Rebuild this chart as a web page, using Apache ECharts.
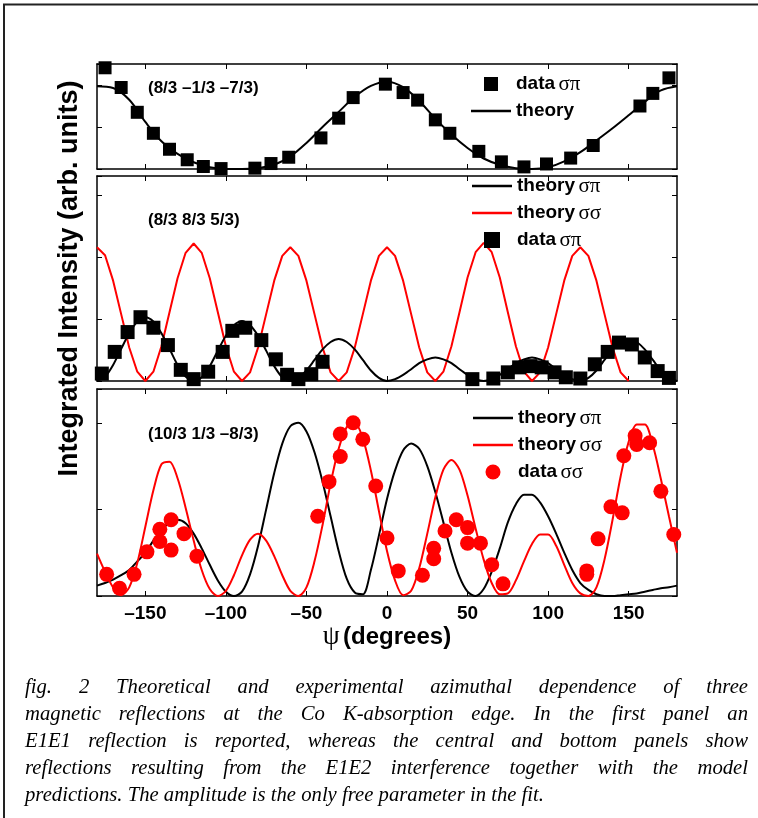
<!DOCTYPE html>
<html>
<head>
<meta charset="utf-8">
<script src="https://cdn.jsdelivr.net/npm/echarts@6/dist/echarts.min.js"></script>
<style>
  html, body { margin: 0; padding: 0; background: #fff; }
  #chart { position: absolute; left: 0; top: 0; width: 758px; height: 818px; }
  #caption { position: absolute; left: 25px; top: 673px; width: 723px;
    font: italic 20.7px "Liberation Serif", "Times New Roman", serif; line-height: 27px; color: #000; }
  #caption div { text-align: justify; text-align-last: justify; white-space: nowrap; }
  #caption div.last { text-align: left; text-align-last: left; }
</style>
</head>
<body>
<div id="chart"></div>
<div id="caption">
  <div>fig. 2 Theoretical and experimental azimuthal dependence of three</div>
  <div>magnetic reflections at the Co K-absorption edge. In the first panel an</div>
  <div>E1E1 reflection is reported, whereas the central and bottom panels show</div>
  <div>reflections resulting from the E1E2 interference together with the model</div>
  <div class="last">predictions. The amplitude is the only free parameter in the fit.</div>
</div>
<script>
// tick positions (degrees)
var psiTicks = [-150, -100, -50, 0, 50, 100, 150];

// angle grids for the theory curves
var psi10 = [-180, -170, -160, -150, -140, -130, -120, -110, -100, -90, -80, -70, -60, -50, -40, -30, -20, -10,
    0, 10, 20, 30, 40, 50, 60, 70, 80, 90, 100, 110, 120, 130, 140, 150, 160, 170, 180];
var psi5 = [-180, -175, -170, -165, -160, -155, -150, -145, -140, -135, -130, -125, -120, -115, -110, -105,
    -100, -95, -90, -85, -80, -75, -70, -65, -60, -55, -50, -45, -40, -35, -30, -25, -20, -15, -10, -5,
    0, 5, 10, 15, 20, 25, 30, 35, 40, 45, 50, 55, 60, 65, 70, 75, 80, 85, 90, 95, 100, 105, 110, 115,
    120, 125, 130, 135, 140, 145, 150, 155, 160, 165, 170, 175, 180];

// panel 1: (8/3 -1/3 -7/3)
var topTheory = [1.97, 1.93, 1.65, 1.12, 0.66, 0.36, 0.16, 0.04, 0.0, 0.0, 0.02, 0.1, 0.3, 0.62, 1.0, 1.36, 1.72, 1.98,
    2.08, 1.95, 1.62, 1.2, 0.82, 0.5, 0.25, 0.1, 0.02, 0.0, 0.04, 0.18, 0.4, 0.68, 0.97, 1.28, 1.6, 1.87, 1.97];
var topDataPsi = [-175, -165, -155, -145, -135, -124, -114, -103, -82, -72, -61, -41, -30, -21, -1, 10, 19, 30,
    39, 57, 71, 85, 99, 114, 128, 157, 165, 175];
var topDataVal = [2.41, 1.94, 1.35, 0.85, 0.47, 0.22, 0.06, 0.01, 0.02, 0.13, 0.28, 0.74, 1.21, 1.70, 2.02, 1.82,
    1.64, 1.17, 0.85, 0.42, 0.17, 0.05, 0.12, 0.26, 0.56, 1.50, 1.80, 2.17];

// panel 2: (8/3 8/3 5/3)
var midTheorySP = [0, 0.07, 0.26, 0.52, 0.77, 0.96, 1.03, 0.96, 0.77, 0.52, 0.26, 0.07, 0,
    0.06, 0.24, 0.49, 0.73, 0.9, 0.97, 0.9, 0.73, 0.49, 0.24, 0.06, 0,
    0.05, 0.17, 0.34, 0.51, 0.63, 0.68, 0.63, 0.51, 0.34, 0.17, 0.05, 0,
    0.03, 0.1, 0.19, 0.29, 0.35, 0.38, 0.35, 0.29, 0.19, 0.1, 0.03, 0,
    0.03, 0.1, 0.19, 0.29, 0.35, 0.38, 0.35, 0.29, 0.19, 0.1, 0.03, 0,
    0.05, 0.17, 0.34, 0.51, 0.63, 0.68, 0.63, 0.51, 0.34, 0.17, 0.05, 0];
var midTheorySS = [2.16, 2.03, 1.62, 1.08, 0.54, 0.15, 0,
    0.15, 0.56, 1.11, 1.66, 2.07, 2.22, 2.07, 1.66, 1.11, 0.56, 0.15, 0,
    0.14, 0.54, 1.08, 1.62, 2.02, 2.16, 2.02, 1.62, 1.08, 0.54, 0.14, 0,
    0.14, 0.54, 1.08, 1.62, 2.02, 2.16, 2.02, 1.62, 1.08, 0.54, 0.14, 0,
    0.15, 0.56, 1.11, 1.67, 2.08, 2.23, 2.08, 1.67, 1.11, 0.56, 0.15, 0,
    0.14, 0.54, 1.08, 1.62, 2.02, 2.16, 2.02, 1.62, 1.08, 0.54, 0.14, 0];
var midDataPsi = [-177, -169, -161, -153, -145, -136, -128, -120, -111, -102, -96, -88, -78, -69, -62, -55, -47, -40,
    53, 66, 75, 82, 89, 96, 104, 111, 120, 129, 137, 144, 152, 160, 168, 175];
var midDataVal = [0.12, 0.47, 0.79, 1.03, 0.86, 0.58, 0.18, 0.03, 0.15, 0.47, 0.81, 0.86, 0.66, 0.35, 0.10, 0.03,
    0.11, 0.31, 0.03, 0.04, 0.14, 0.22, 0.24, 0.22, 0.14, 0.06, 0.04, 0.27, 0.47, 0.62, 0.59, 0.38, 0.16, 0.05];

// panel 3: (10/3 1/3 -8/3)
var botTheorySP = [0.12, 0.15, 0.19, 0.24, 0.30, 0.40, 0.50, 0.64, 0.76, 0.85, 0.88, 0.84, 0.72, 0.55, 0.36, 0.18,
    0.05, 0.0, 0.05, 0.25, 0.58, 1.0, 1.42, 1.76, 1.96, 2.0, 1.9, 1.66, 1.32, 0.92, 0.52, 0.2, 0.04, 0.02, 0.3, 0.7,
    1.12, 1.45, 1.68, 1.76, 1.7, 1.5, 1.2, 0.85, 0.5, 0.22, 0.05, 0.0, 0.08, 0.28, 0.55, 0.85, 1.06, 1.17, 1.17,
    1.08, 0.92, 0.72, 0.5, 0.3, 0.15, 0.07, 0.02, 0.0, 0.0, 0.01, 0.02, 0.03, 0.05, 0.07, 0.09, 0.1, 0.12];
var botTheorySS = [0.49, 0.28, 0.1, 0.01, 0.1, 0.38, 0.8, 1.22, 1.52, 1.55, 1.36, 1.02, 0.64, 0.3, 0.08, 0.0,
    0.06, 0.24, 0.47, 0.65, 0.72, 0.64, 0.46, 0.24, 0.06, 0.0, 0.1, 0.4, 0.82, 1.3, 1.7, 1.95, 2.0, 1.82, 1.45, 0.98,
    0.52, 0.18, 0.01, 0.06, 0.32, 0.72, 1.14, 1.46, 1.57, 1.46, 1.16, 0.78, 0.42, 0.15, 0.02, 0.03, 0.18, 0.4, 0.6,
    0.71, 0.71, 0.58, 0.36, 0.15, 0.03, 0.0, 0.1, 0.42, 0.88, 1.38, 1.78, 1.98, 1.98, 1.74, 1.35, 0.92, 0.5];
var botDataPsi = [-174, -166, -157, -149, -141, -141, -134, -134, -126, -118, -43, -36, -29, -29, -21, -15, -7, 0,
    7, 22, 29, 29, 36, 43, 50, 50, 58, 65, 72, 124, 124, 131, 139, 146, 147, 154, 155, 163, 170, 178];
var botDataVal = [0.25, 0.09, 0.25, 0.51, 0.63, 0.77, 0.88, 0.53, 0.72, 0.46, 0.92, 1.32, 1.61, 1.87, 2.00, 1.81,
    1.27, 0.67, 0.29, 0.24, 0.55, 0.43, 0.75, 0.88, 0.79, 0.61, 0.61, 0.36, 0.14, 0.29, 0.25, 0.66, 1.03, 0.96,
    1.62, 1.85, 1.75, 1.77, 1.21, 0.71];

var sans = '"Liberation Sans", Arial, sans-serif';
var serif = '"Liberation Serif", "Times New Roman", serif';
var squareIcon = 'path://M0,0H10V10H0Z';
var lineIcon = 'path://M0,0H40V2.4H0Z';

function pairs(xs, ys) {
    return xs.map(function (x, i) { return [x, ys[i]]; });
}

function dashNum(v) {
    return v < 0 ? '\u2013' + (-v) : String(v);
}

function xAxes(g, labels) {
    var base = {
        type: 'value', gridIndex: g, min: -180, max: 180,
        axisLine: { show: true, onZero: false, lineStyle: { color: '#000', width: 1.5 } },
        axisTick: { show: true, inside: true, length: 5, customValues: psiTicks, lineStyle: { color: '#000', width: 1 } },
        splitLine: { show: false }
    };
    var bottom = Object.assign({}, base, {
        position: 'bottom',
        axisLabel: {
            show: labels, customValues: psiTicks, formatter: dashNum, margin: 8,
            color: '#000', fontSize: 19, fontWeight: 'bold', fontFamily: sans
        }
    });
    if (labels) {
        bottom.name = '{p|\u03c8} {b|(degrees)}';
        bottom.nameLocation = 'middle';
        bottom.nameGap = 27;
        bottom.nameTextStyle = {
            rich: {
                p: { fontFamily: serif, fontSize: 27, color: '#000' },
                b: { fontFamily: sans, fontSize: 24, fontWeight: 'bold', color: '#000' }
            }
        };
    }
    var top = Object.assign({}, base, { position: 'top', axisLabel: { show: false } });
    return [bottom, top];
}

function yAxes(g, max, withName) {
    var base = {
        type: 'value', gridIndex: g, min: 0, max: max, interval: 1,
        axisLine: { show: true, onZero: false, lineStyle: { color: '#000', width: 1.5 } },
        axisTick: { show: true, inside: true, length: 5, lineStyle: { color: '#000', width: 1 } },
        axisLabel: { show: false },
        splitLine: { show: false }
    };
    var left = Object.assign({}, base, { position: 'left' });
    if (withName) {
        left.name = 'Integrated Intensity (arb. units)';
        left.nameLocation = 'middle';
        left.nameRotate = 90;
        left.nameGap = 14;
        left.nameTextStyle = { fontFamily: sans, fontSize: 27, fontWeight: 'bold', color: '#000' };
    }
    var right = Object.assign({}, base, { position: 'right' });
    return [left, right];
}

function legendBox(left, top, h, gap, items) {
    return {
        orient: 'vertical', left: left, top: top, padding: 0,
        itemWidth: 40, itemHeight: h, itemGap: gap, selectedMode: false,
        data: items,
        formatter: function (name) {
            var p = name.split(' ');
            return p.length > 1 ? '{b|' + p[0] + '} {g|' + p[1] + '}' : '{b|' + name + '}';
        },
        textStyle: {
            color: '#000',
            rich: {
                b: { fontFamily: sans, fontSize: 19, fontWeight: 'bold', color: '#000' },
                g: { fontFamily: serif, fontSize: 21, color: '#000' }
            }
        }
    };
}

function panelLabel(text, top) {
    return {
        type: 'text', left: 148, top: top, z: 10,
        style: { text: text, font: 'bold 17px "Liberation Sans", Arial', fill: '#000' }
    };
}

var dom = document.getElementById('chart');
var myChart = echarts.init(dom, null, { renderer: 'canvas' });

var option = {
    animation: false,
    backgroundColor: '#fff',
    grid: [
        { left: 97, top: 64, width: 580, height: 105 },
        { left: 97, top: 176, width: 580, height: 205 },
        { left: 97, top: 389, width: 580, height: 207 }
    ],
    xAxis: [].concat(xAxes(0, false), xAxes(1, false), xAxes(2, true)),
    yAxis: [].concat(yAxes(0, 2.5, false), yAxes(1, 3.31, true), yAxes(2, 2.39, false)),
    legend: [
        legendBox(471, 73.5, 14, 7, [{ name: 'data \u03c3\u03c0', icon: squareIcon }, { name: 'theory', icon: lineIcon }]),
        legendBox(472, 175.5, 16, 6, [{ name: 'theory \u03c3\u03c0', icon: lineIcon }, { name: 'theory \u03c3\u03c3', icon: lineIcon },
            { name: 'data \u03c3\u03c0', icon: squareIcon }]),
        legendBox(473, 407.5, 15, 6, [{ name: 'theory \u03c3\u03c0', icon: lineIcon }, { name: 'theory \u03c3\u03c3', icon: lineIcon },
            { name: 'data \u03c3\u03c3', icon: 'circle' }])
    ],
    graphic: [
        { type: 'rect', shape: { x: 4, y: 4.5, width: 820, height: 900 }, style: { fill: 'none', stroke: '#222', lineWidth: 2 }, silent: true },
        panelLabel('(8/3 \u20131/3 \u20137/3)', 80),
        panelLabel('(8/3 8/3 5/3)', 212),
        panelLabel('(10/3 1/3 \u20138/3)', 426)
    ],
    series: [
        {
            name: 'theory', type: 'line', xAxisIndex: 0, yAxisIndex: 0,
            data: pairs(psi10, topTheory), symbol: 'none', smooth: 0.35,
            lineStyle: { color: '#000', width: 2 }, itemStyle: { color: '#000' }, z: 2
        },
        {
            name: 'data \u03c3\u03c0', type: 'scatter', xAxisIndex: 0, yAxisIndex: 0,
            data: pairs(topDataPsi, topDataVal), symbol: 'rect', symbolSize: 13,
            itemStyle: { color: '#000', opacity: 1 }, z: 3
        },
        {
            name: 'theory \u03c3\u03c3', type: 'line', xAxisIndex: 2, yAxisIndex: 2,
            data: pairs(psi5.slice(0, midTheorySS.length), midTheorySS), symbol: 'none',
            lineStyle: { color: '#f00', width: 2 }, itemStyle: { color: '#f00' }, z: 2
        },
        {
            name: 'theory \u03c3\u03c0', type: 'line', xAxisIndex: 2, yAxisIndex: 2,
            data: pairs(psi5, midTheorySP), symbol: 'none', smooth: 0.3,
            lineStyle: { color: '#000', width: 2 }, itemStyle: { color: '#000' }, z: 2
        },
        {
            name: 'data \u03c3\u03c0', type: 'scatter', xAxisIndex: 2, yAxisIndex: 2,
            data: pairs(midDataPsi, midDataVal), symbol: 'rect', symbolSize: 14,
            itemStyle: { color: '#000', opacity: 1 }, z: 3
        },
        {
            name: 'theory \u03c3\u03c0', type: 'line', xAxisIndex: 4, yAxisIndex: 4,
            data: pairs(psi5, botTheorySP), symbol: 'none', smooth: 0.3,
            lineStyle: { color: '#000', width: 2 }, itemStyle: { color: '#000' }, z: 2
        },
        {
            name: 'theory \u03c3\u03c3', type: 'line', xAxisIndex: 4, yAxisIndex: 4,
            data: pairs(psi5, botTheorySS), symbol: 'none', smooth: 0.3,
            lineStyle: { color: '#f00', width: 2 }, itemStyle: { color: '#f00' }, z: 2
        },
        {
            name: 'data \u03c3\u03c3', type: 'scatter', xAxisIndex: 4, yAxisIndex: 4,
            data: pairs(botDataPsi, botDataVal), symbol: 'circle', symbolSize: 15,
            itemStyle: { color: '#f00', opacity: 1 }, z: 3
        }
    ]
};

if (option && typeof option === 'object') {
    myChart.setOption(option, true);
}
</script>
</body>
</html>
